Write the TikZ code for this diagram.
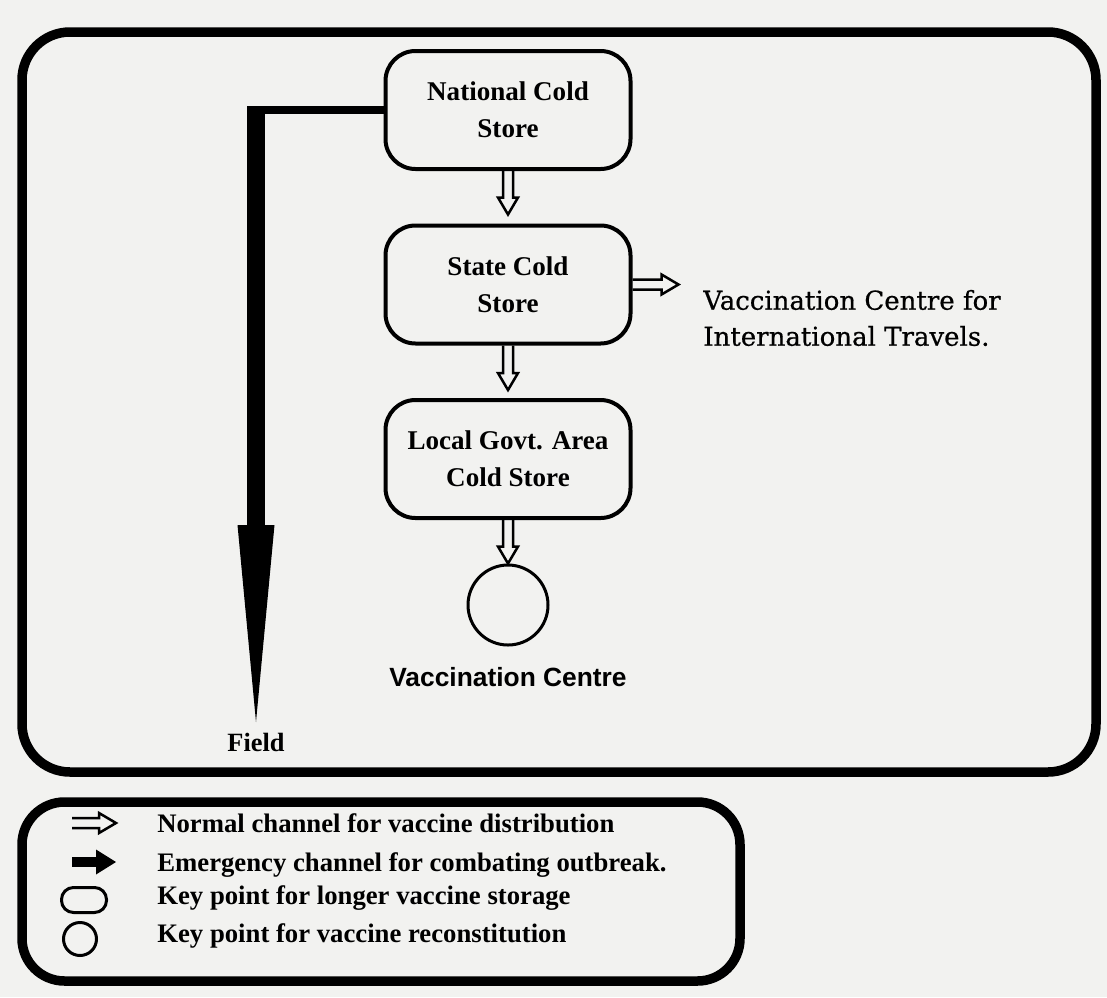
\documentclass[tikz,border=0pt]{standalone}
\usepackage{fontspec}
\setmainfont{Liberation Serif}
\setsansfont{Liberation Sans}
\newfontfamily\bookfont[FakeBold=0.6]{DejaVu Serif}
\usepackage{tikz}
\usetikzlibrary{positioning, calc, arrows.meta}
\definecolor{paper}{RGB}{242,242,240}

\begin{document}
\begin{tikzpicture}[x=0.2mm, y=-0.2mm, node distance=34.9mm,
        store/.style={draw, line width=0.8mm, rounded corners=6mm, minimum width=49mm, minimum height=23.6mm,
            align=center, font=\fontsize{15.4}{21}\selectfont\bfseries},
        point/.style={draw, circle, line width=0.6mm, minimum size=16mm},
        frame/.style={line width=1.9mm, rounded corners=9.6mm},
        legend/.style={anchor=base west, inner sep=0pt, font=\fontsize{15.2}{18}\selectfont\bfseries},
        normal/.style={line width=0.5mm, to path={
            ($(\tikztostart)!1mm!-90:(\tikztotarget)$)
            -- ($(\tikztotarget)!3.54mm!16.4:(\tikztostart)$)
            -- ($(\tikztotarget)!3.94mm!30.5:(\tikztostart)$)
            -- (\tikztotarget)
            -- ($(\tikztotarget)!3.94mm!-30.5:(\tikztostart)$)
            -- ($(\tikztotarget)!3.54mm!-16.4:(\tikztostart)$)
            -- ($(\tikztostart)!1mm!90:(\tikztotarget)$)}},
        emergency/.style={line width=3.6mm, -{Triangle[length=39.4mm, width=7.4mm, line width=0pt]}}]

        \fill[paper] (0,0) rectangle (1107,997);
        \draw[frame] (22,32) rectangle (1096,772);
        \draw[frame, rounded corners=8.5mm] (22,802) rectangle (740,981);

        \node[store] (national) at (508,110) {National Cold\\Store};
        \node[store] (state) [below of=national] {State Cold\\Store};
        \node[store] (local) [below of=state] {Local Govt. Area\\Cold Store};
        \node[point] (circ) [below of=local, node distance=29.2mm] {};
        \node[font=\sffamily\bfseries\fontsize{15}{18}\selectfont] (centre) [below of=circ, node distance=14.4mm] {Vaccination Centre};
        \node[anchor=west, inner sep=0pt, align=left, font=\bookfont\fontsize{14.8}{20.5}\selectfont] (intl) at (703,318)
            {Vaccination Centre for\\International Travels.};

        \coordinate (t1) at ($(state.north)+(0,-9)$);
        \coordinate (t2) at ($(local.north)+(0,-8)$);
        \coordinate (t3) at ($(state.east)+(46,0)$);
        \path
            (national.south) edge[normal] (t1)
            (state.south) edge[normal] (t2)
            (local.south) edge[normal] (circ.north)
            (state.east) edge[normal] (t3);

        % emergency channel
        \coordinate (tip) at (256,722);
        \node[font=\fontsize{15}{18}\selectfont\bfseries] (field) [below=1mm of tip] {Field};
        \draw[line width=1.6mm] (national.west) -- (national.west -| tip);
        \draw[emergency] ($(national.west -| tip)+(0,-4)$) -- (tip);

        % legend
        \coordinate (l1a) at (72,823);
        \coordinate (l1b) at (116,823);
        \coordinate (l2a) at (72,862);
        \coordinate (l2b) at (116,862);
        \path (l1a) edge[normal] (l1b);
        \draw[line width=1.9mm, -{Triangle[length=4mm, width=5mm, line width=0pt]}] (l2a) -- (l2b);
        \node[draw, line width=0.6mm, rounded corners=2.4mm, minimum width=9mm, minimum height=5mm] (kstore) at (84,900) {};
        \node[point, minimum size=6.6mm] (kpoint) at (80,939) {};
        \node[legend] (n1) at (157,832) {Normal channel for vaccine distribution};
        \node[legend] (n2) at (157,871) {Emergency channel for combating outbreak.};
        \node[legend] (n3) at (157,904) {Key point for longer vaccine storage};
        \node[legend] (n4) at (157,942) {Key point for vaccine reconstitution};
    \end{tikzpicture}
\end{document}
